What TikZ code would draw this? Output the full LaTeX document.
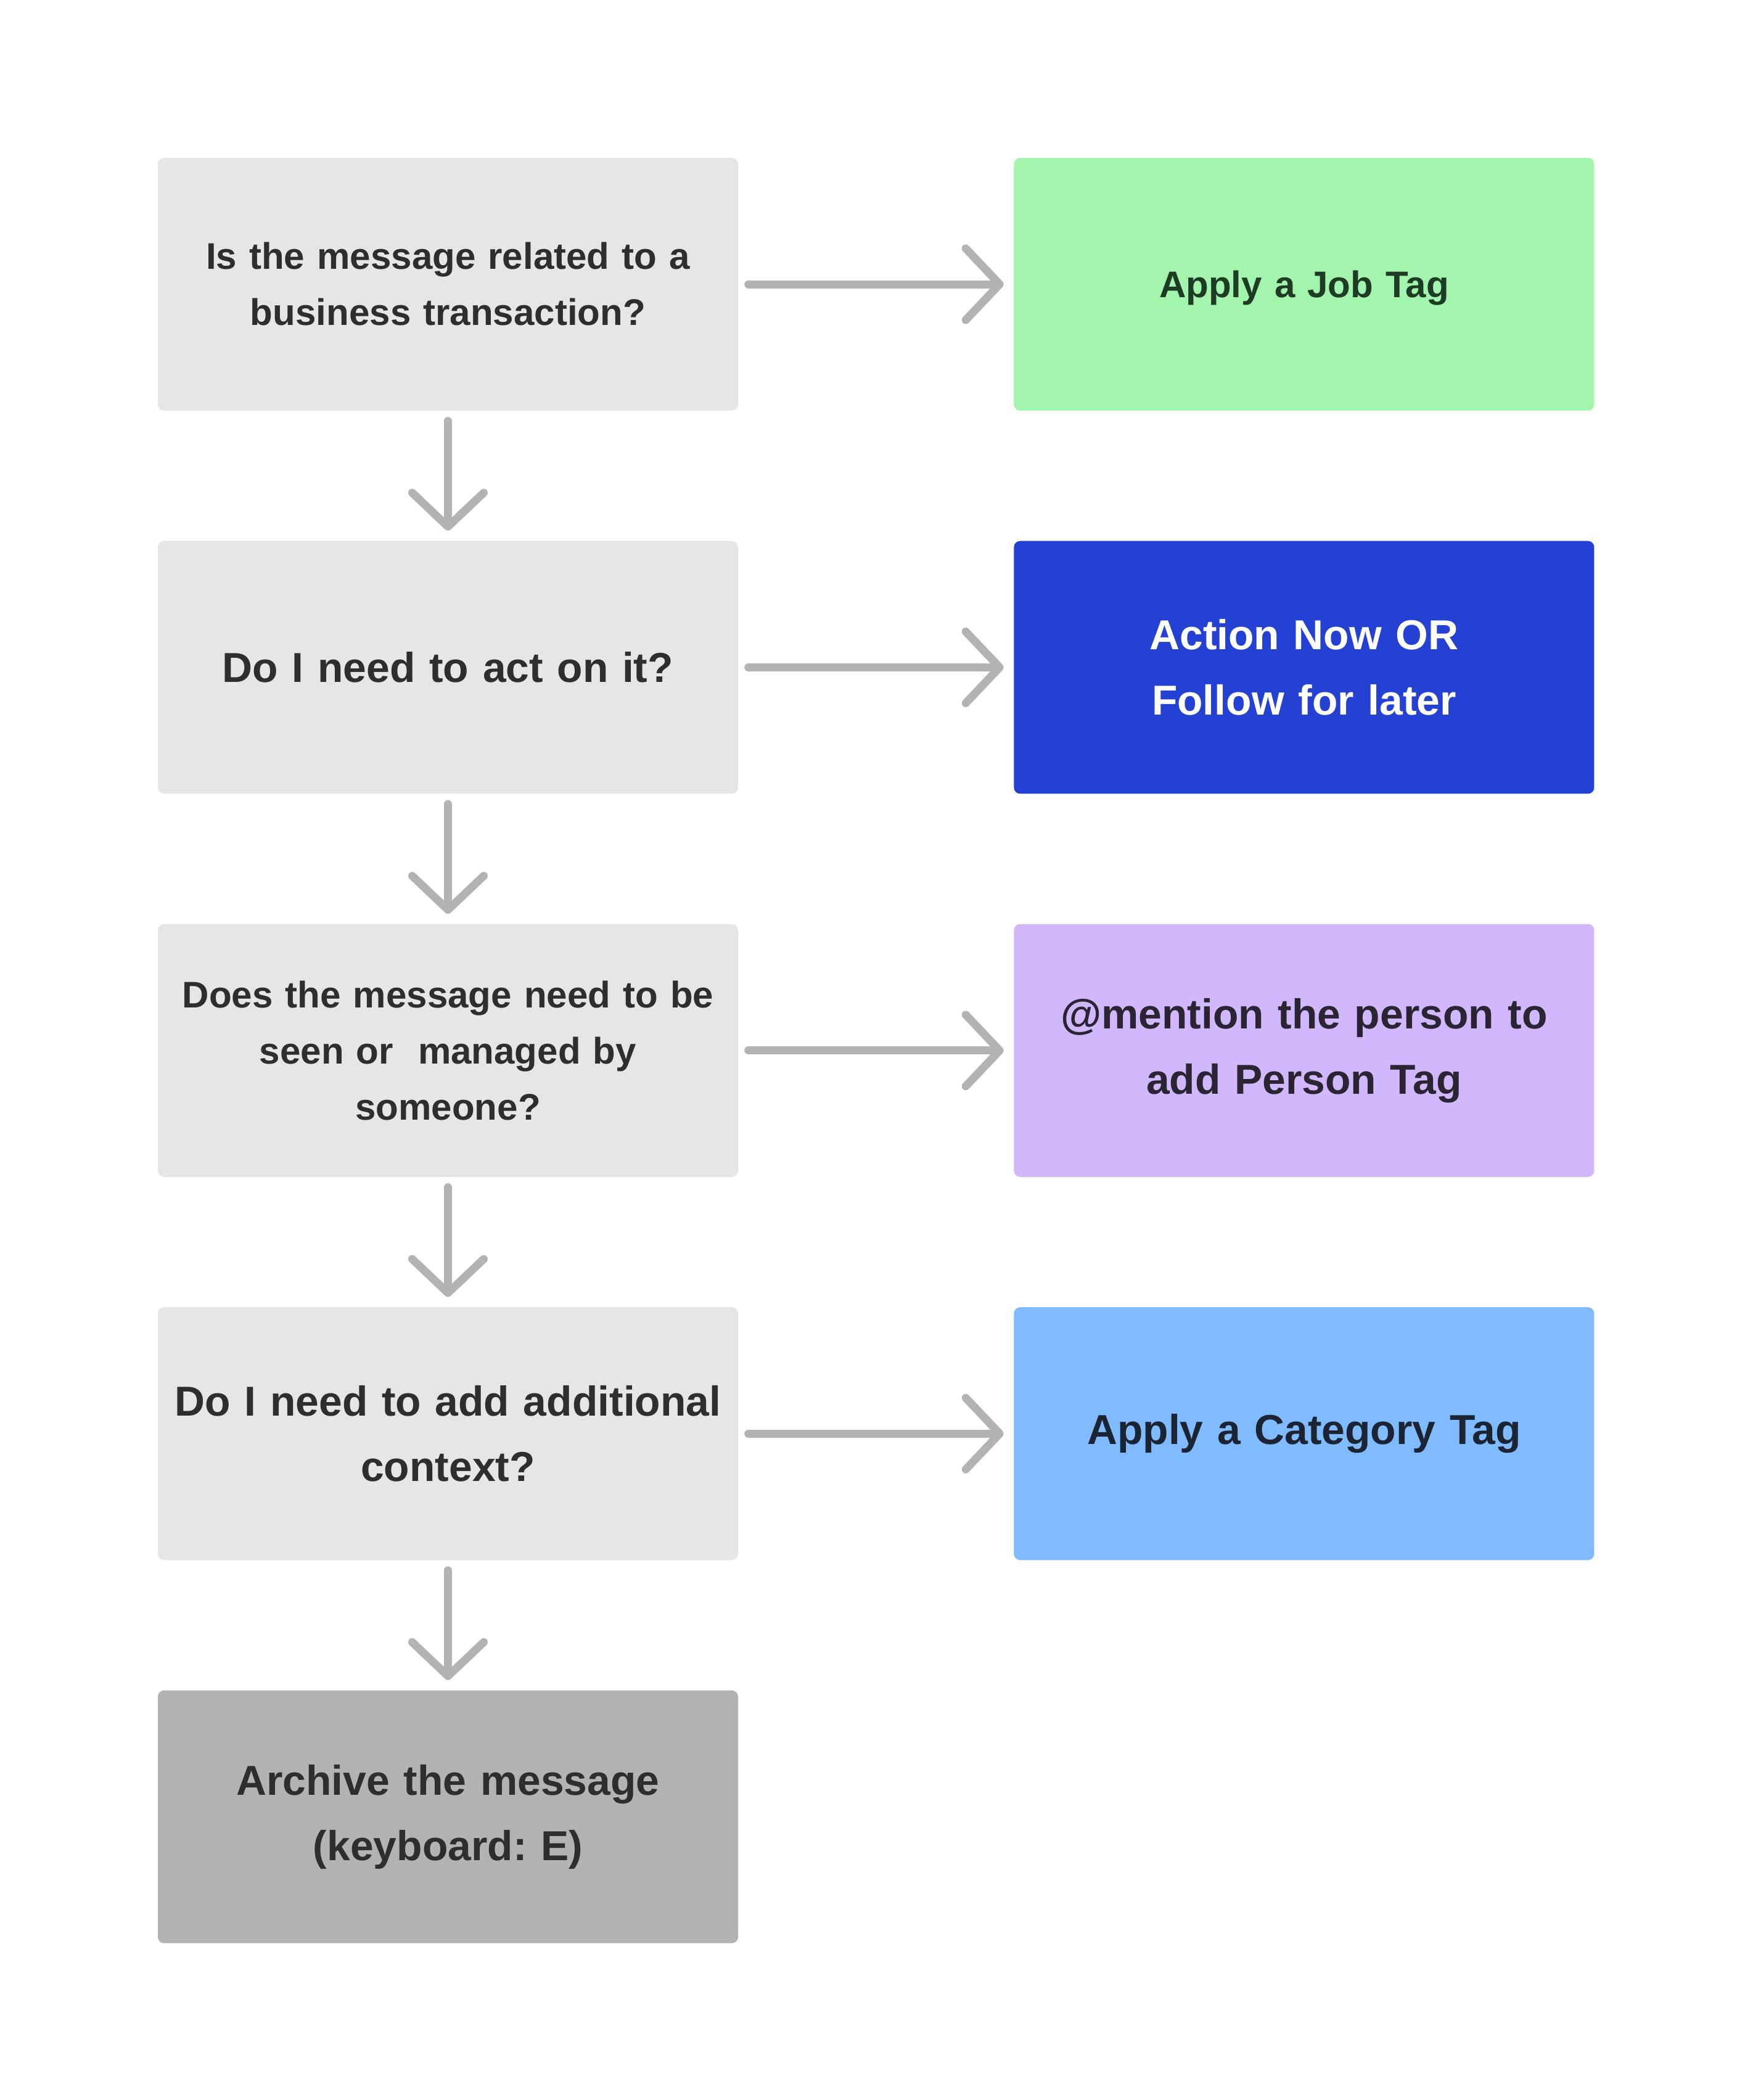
\documentclass[tikz,border=0pt]{standalone}
\usepackage{fontspec}
\setmainfont{Liberation Sans}
\usetikzlibrary{positioning, arrows.meta}
\frenchspacing

\definecolor{qgrey}{HTML}{E6E6E6}
\definecolor{qtext}{HTML}{2E2E2E}
\definecolor{jobgreen}{HTML}{A3F5AE}
\definecolor{jobtext}{HTML}{1E3B24}
\definecolor{actblue}{HTML}{2441D4}
\definecolor{mentpurple}{HTML}{D1B8FC}
\definecolor{menttext}{HTML}{2A2433}
\definecolor{catblue}{HTML}{80BAFF}
\definecolor{cattext}{HTML}{1B2433}
\definecolor{archgrey}{HTML}{B3B3B3}
\definecolor{arrowgrey}{HTML}{B3B3B3}

\begin{document}
\begin{tikzpicture}[
  box/.style={rounded corners=1mm, text width=90mm, inner xsep=2.05mm, minimum height=41mm, align=center},
  qbox/.style={box, fill=qgrey, text=qtext},
  smalltxt/.style={font=\fontsize{17.1}{25.9}\selectfont\bfseries},
  bigtxt/.style={font=\fontsize{19.3}{30.2}\selectfont\bfseries},
  flow/.style={draw=arrowgrey, line width=1.3mm, line cap=round, shorten <=1.6mm, shorten >=1.6mm,
    -{Straight Barb[length=5.5mm, width=11.6mm, round]}}
]
  \useasboundingbox (0,0) rectangle (284.2mm,-340.6mm);

  % questions, left column
  \node[qbox, smalltxt] (busq) at (72.65mm,-46.1mm) {Is the message related to a\\business transaction?};
  \node[qbox, bigtxt, below=21mm of busq] (actq) {Do I need to act on it?};
  \node[qbox, smalltxt, below=21mm of actq] (seenq) {Does the message need to be\\seen or~ managed by\\someone?};
  \node[qbox, bigtxt, below=21mm of seenq] (ctxq) {Do I need to add additional\\context?};
  \node[box, fill=archgrey, text=qtext, bigtxt, below=21mm of ctxq] (archive) {Archive the message\\(keyboard: E)};

  % tags, right column
  \node[box, fill=jobgreen, text=jobtext, smalltxt, text depth=0.1mm, right=44.6mm of busq] (jobtag) {Apply a Job Tag};
  \node[box, fill=actblue, text=white, bigtxt, right=44.6mm of actq] (follow) {Action Now OR\\Follow for later};
  \node[box, fill=mentpurple, text=menttext, bigtxt, right=44.6mm of seenq] (mention) {@mention the person to\\add Person Tag};
  \node[box, fill=catblue, text=cattext, bigtxt, right=44.6mm of ctxq] (cattag) {Apply a Category Tag};

  % yes arrows
  \draw[flow] (busq.east) -- (jobtag.west);
  \draw[flow] (actq.east) -- (follow.west);
  \draw[flow] (seenq.east) -- (mention.west);
  \draw[flow] (ctxq.east) -- (cattag.west);

  % no arrows
  \draw[flow] (busq.south) -- (actq.north);
  \draw[flow] (actq.south) -- (seenq.north);
  \draw[flow] (seenq.south) -- (ctxq.north);
  \draw[flow] (ctxq.south) -- (archive.north);
\end{tikzpicture}
\end{document}
